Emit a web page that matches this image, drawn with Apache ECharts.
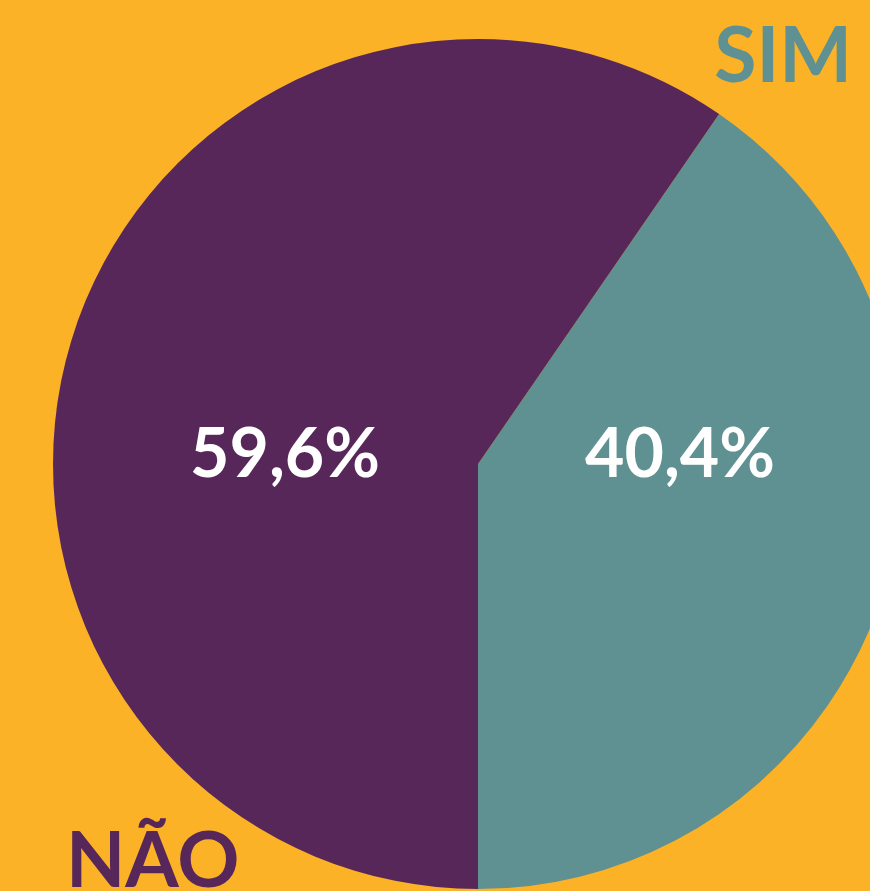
<!DOCTYPE html>
<html>
<head>
<meta charset="utf-8">
<script src="https://cdn.jsdelivr.net/npm/echarts@6/dist/echarts.min.js"></script>
<style>
  html, body { margin: 0; padding: 0; background: #FBB227; }
  #chart { width: 870px; height: 891px; }
</style>
</head>
<body>
<div id="chart"></div>
<script>
// Données
const categories = ['SIM', 'NÃO'];
const values = [40.4, 59.6];
const colors = ['#609192', '#58275A'];

const chart = echarts.init(document.getElementById('chart'), null, { renderer: 'canvas' });

const total = values.reduce((a, b) => a + b, 0);
// la part "SIM" se termine à 6 heures
const startAngle = -90 + 360 * values[0] / total;

const fmt = v => v.toFixed(1).replace('.', ',') + '%';

const option = {
    backgroundColor: '#FBB227',
    animation: false,
    title: [
        {
            text: categories[0],
            right: 13,
            top: 14,
            textStyle: { color: colors[0], fontFamily: 'Lato', fontWeight: 'bold', fontSize: 77 }
        },
        {
            text: categories[1],
            left: 61,
            top: 819,
            textStyle: { color: colors[1], fontFamily: 'Lato', fontWeight: 'bold', fontSize: 77 }
        }
    ],
    series: [
        {
            type: 'pie',
            center: [478, 464],
            radius: [0, 425],
            startAngle: startAngle,
            clockwise: true,
            silent: true,
            itemStyle: { borderWidth: 0 },
            label: {
                show: true,
                position: 'inside',
                formatter: p => fmt(p.value),
                color: '#FFFFFF',
                fontFamily: 'Lato',
                fontWeight: 'bold',
                fontSize: 68
            },
            labelLayout: function (params) {
                const left = params.dataIndex === 1;
                return {
                    x: left ? 285 : 680,
                    y: 455,
                    align: 'center',
                    verticalAlign: 'middle'
                };
            },
            data: categories.map((c, i) => ({
                name: c,
                value: values[i],
                itemStyle: { color: colors[i] }
            }))
        }
    ]
};

chart.setOption(option);
window.addEventListener('resize', chart.resize);
</script>
</body>
</html>
